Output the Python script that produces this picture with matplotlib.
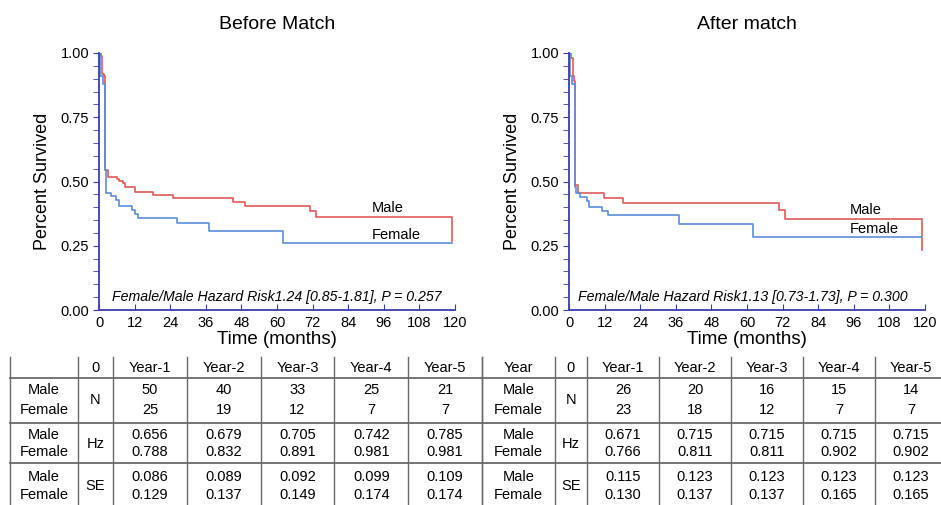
import matplotlib.pyplot as plt
from matplotlib.ticker import MultipleLocator

# Kaplan-Meier curves (months, survival)
before_male_t = [0, 0.7, 1.0, 1.6, 2.1, 3.0, 5.9, 6.9, 8.0, 8.9, 12.1, 18.1, 25, 45, 49.3, 71, 73.1, 119.1]
before_male_s = [1.0, 0.99, 0.92, 0.91, 0.543, 0.517, 0.508, 0.501, 0.494, 0.478, 0.458, 0.449, 0.435, 0.422, 0.403, 0.384, 0.36, 0.27]
before_female_t = [0, 0.3, 1.2, 2.1, 2.4, 4.0, 5.7, 6.7, 11.2, 12.1, 13.3, 26.2, 37.2, 62.1, 119.1]
before_female_s = [1.0, 0.91, 0.88, 0.545, 0.455, 0.442, 0.429, 0.406, 0.39, 0.374, 0.358, 0.338, 0.309, 0.261, 0.261]

after_male_t = [0, 0.7, 1.2, 1.8, 2.1, 3.1, 11.9, 18.1, 70.9, 72.9, 118.9]
after_male_s = [1.0, 0.98, 0.91, 0.89, 0.485, 0.455, 0.435, 0.416, 0.39, 0.355, 0.234]
after_female_t = [0, 0.3, 1.0, 2.1, 2.4, 3.7, 6.0, 6.6, 11.0, 13.0, 37.1, 62.1, 118.9]
after_female_s = [1.0, 0.91, 0.88, 0.48, 0.455, 0.44, 0.426, 0.40, 0.385, 0.368, 0.335, 0.283, 0.283]

titles = ['Before Match', 'After match']
hazard_notes = ['Female/Male Hazard Risk1.24 [0.85-1.81], P = 0.257',
                'Female/Male Hazard Risk1.13 [0.73-1.73], P = 0.300']

# table contents
year_cols = ['Year-1', 'Year-2', 'Year-3', 'Year-4', 'Year-5']
before_n_male = ['50', '40', '33', '25', '21']
before_n_female = ['25', '19', '12', '7', '7']
before_hz_male = ['0.656', '0.679', '0.705', '0.742', '0.785']
before_hz_female = ['0.788', '0.832', '0.891', '0.981', '0.981']
before_se_male = ['0.086', '0.089', '0.092', '0.099', '0.109']
before_se_female = ['0.129', '0.137', '0.149', '0.174', '0.174']
after_n_male = ['26', '20', '16', '15', '14']
after_n_female = ['23', '18', '12', '7', '7']
after_hz_male = ['0.671', '0.715', '0.715', '0.715', '0.715']
after_hz_female = ['0.766', '0.811', '0.811', '0.902', '0.902']
after_se_male = ['0.115', '0.123', '0.123', '0.123', '0.123']
after_se_female = ['0.130', '0.137', '0.137', '0.165', '0.165']

RED = '#e05a5a'
BLUE = '#5b8fd8'
AXIS = '#3b3bb0'
plt.rcParams['font.family'] = ['Liberation Sans', 'DejaVu Sans']

W, H = 941, 505
fig = plt.figure(figsize=(W / 100, H / 100), dpi=100)

curves = [(before_male_t, before_male_s, before_female_t, before_female_s),
          (after_male_t, after_male_s, after_female_t, after_female_s)]
label_pos = [((92, 0.397), (92, 0.292)), ((94.7, 0.389), (94.7, 0.315))]
lefts = [99, 569]

for i in range(2):
    ax = fig.add_axes([lefts[i] / W, 1 - 310 / H, 356 / W, 257 / H])
    mt, ms, ft, fs = curves[i]
    ax.step(mt, ms, where='post', color=RED, lw=1.2)
    ax.step(ft, fs, where='post', color=BLUE, lw=1.2)
    ax.set_xlim(0, 120)
    ax.set_ylim(0, 1)
    for s in ['top', 'right']:
        ax.spines[s].set_visible(False)
    for s in ['left', 'bottom']:
        ax.spines[s].set_color(AXIS)
        ax.spines[s].set_linewidth(1.3)
    ax.xaxis.set_major_locator(MultipleLocator(12))
    ax.yaxis.set_major_locator(MultipleLocator(0.25))
    ax.yaxis.set_minor_locator(MultipleLocator(0.05))
    ax.yaxis.set_major_formatter(lambda v, p: f'{v:.2f}')
    ax.tick_params(axis='x', direction='in', length=4, color=AXIS, labelsize=10.5, pad=4)
    ax.tick_params(axis='y', which='both', direction='out', length=4, color=AXIS, labelsize=10.5, pad=3)
    ax.set_xlabel('Time (months)', fontsize=13.5, labelpad=1)
    ax.set_ylabel('Percent Survived', fontsize=13, labelpad=7)
    ax.set_title(titles[i], fontsize=14, pad=17)
    (mx, my), (fx, fy) = label_pos[i]
    ax.text(mx, my, 'Male', fontsize=10.5, va='center')
    ax.text(fx, fy, 'Female', fontsize=10.5, va='center')
    ax.text(58.5 + 1.5 * (1 - i), 0.052, hazard_notes[i], fontsize=10.2, style='italic',
            ha='center', va='center')

# table drawn in pixel coordinates
tab = fig.add_axes([0, 0, 1, 1])
tab.set_xlim(0, W)
tab.set_ylim(H, 0)
tab.axis('off')
tfont = dict(fontsize=10.5, ha='center', va='center',
             family=['Liberation Sans Narrow', 'Liberation Sans', 'DejaVu Sans'])
GRID = '#6a6a6a'

row_y = {'head': 368, 'n': (390, 410), 'hz': (435, 452), 'se': (477, 495)}
hlines_y = [378, 423, 463]

tables = [
    dict(x0=10, x1=78, x2=113, cw=73.8, head='',
         rows=[('N', before_n_male, before_n_female), ('Hz', before_hz_male, before_hz_female),
               ('SE', before_se_male, before_se_female)]),
    dict(x0=482, x1=555, x2=587, cw=72, head='Year',
         rows=[('N', after_n_male, after_n_female), ('Hz', after_hz_male, after_hz_female),
               ('SE', after_se_male, after_se_female)]),
]

for t in tables:
    xs = [t['x0'], t['x1'], t['x2']] + [t['x2'] + t['cw'] * (k + 1) for k in range(5)]
    for x in xs:
        tab.plot([x, x], [357, H], color=GRID, lw=1)
    for y in hlines_y:
        tab.plot([t['x0'], xs[-1]], [y, y], color=GRID, lw=1.3)
    tab.text((t['x0'] + t['x1']) / 2, row_y['head'], t['head'], **tfont)
    tab.text((t['x1'] + t['x2']) / 2, row_y['head'], '0', **tfont)
    for k, c in enumerate(year_cols):
        tab.text(t['x2'] + t['cw'] * (k + 0.5), row_y['head'], c, **tfont)
    for key, (name, male_vals, female_vals) in zip(['n', 'hz', 'se'], t['rows']):
        ym, yf = row_y[key]
        tab.text((t['x0'] + t['x1']) / 2, ym, 'Male', **tfont)
        tab.text((t['x0'] + t['x1']) / 2, yf, 'Female', **tfont)
        tab.text((t['x1'] + t['x2']) / 2, (ym + yf) / 2, name, **tfont)
        for k in range(5):
            cx = t['x2'] + t['cw'] * (k + 0.5)
            tab.text(cx, ym, male_vals[k], **tfont)
            tab.text(cx, yf, female_vals[k], **tfont)

fig.savefig('out.png', dpi=100)
